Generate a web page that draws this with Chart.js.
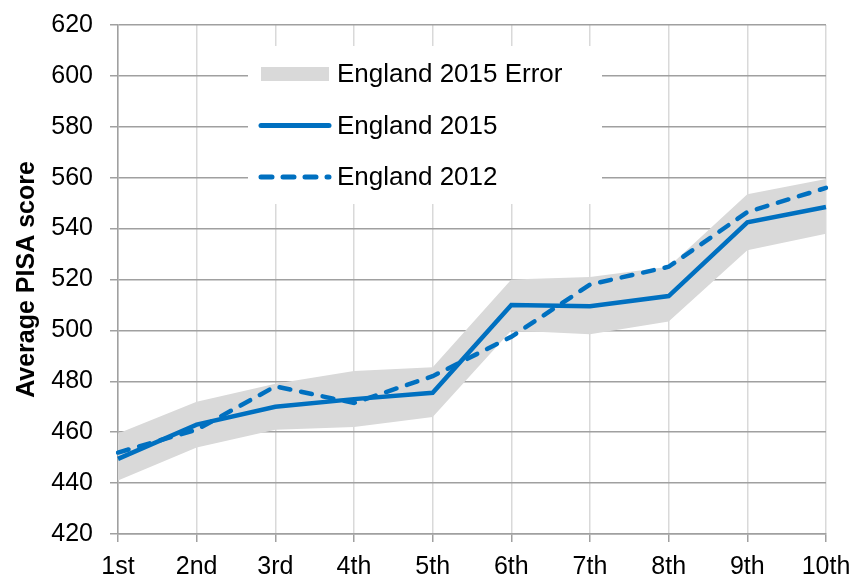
<!DOCTYPE html>
<html>
<head>
<meta charset="utf-8">
<script src="https://cdn.jsdelivr.net/npm/chart.js@4.4.0/dist/chart.umd.min.js"></script>
<style>
  html, body { margin: 0; padding: 0; background: #fff; }
  #wrap { width: 854px; height: 577px; }
</style>
</head>
<body>
<div id="wrap"><canvas id="chart" width="854" height="577"></canvas></div>
<script>
const deciles = ['1st', '2nd', '3rd', '4th', '5th', '6th', '7th', '8th', '9th', '10th'];
const england2015 = [449.5, 463, 470, 473, 475.5, 510, 509.5, 513.5, 542.5, 548.5];
const england2012 = [452, 461, 478, 471.5, 482, 497.5, 518, 525, 546.5, 556];
const errorLow = [441, 454, 461, 462, 466, 500, 498.5, 503.5, 531.5, 538];
const errorHigh = [459.5, 472, 479, 484, 485.5, 520, 521, 525, 553.5, 559.5];

const BLUE = '#0070c0';
const BAND = '#d9d9d9';
const FONT = '"Liberation Sans", Arial, sans-serif';

// legend drawn inside the plot, on a white box over the grid
const innerLegend = {
  id: 'innerLegend',
  afterDatasetsDraw(chart) {
    const ctx = chart.ctx;
    const x0 = 248, y0 = 46;
    ctx.save();
    ctx.fillStyle = '#fff';
    ctx.fillRect(x0, y0, 354, 158);

    const items = [
      { label: 'England 2015 Error', type: 'band' },
      { label: 'England 2015', type: 'solid' },
      { label: 'England 2012', type: 'dash' }
    ];
    items.forEach((it, i) => {
      const cy = 74 + i * 51.5;
      if (it.type === 'band') {
        ctx.fillStyle = BAND;
        ctx.fillRect(261, cy - 7, 68, 14);
      } else {
        ctx.strokeStyle = BLUE;
        ctx.lineWidth = 5;
        ctx.lineCap = 'round';
        ctx.setLineDash(it.type === 'dash' ? [11, 11] : []);
        ctx.beginPath();
        ctx.moveTo(261, cy);
        ctx.lineTo(329, cy);
        ctx.stroke();
        ctx.setLineDash([]);
      }
      ctx.fillStyle = '#000';
      ctx.font = '26px ' + FONT;
      ctx.textBaseline = 'middle';
      ctx.textAlign = 'left';
      ctx.fillText(it.label, 337, cy + 1);
    });
    ctx.restore();
  }
};

new Chart(document.getElementById('chart'), {
  type: 'line',
  data: {
    labels: deciles,
    datasets: [
      {
        label: 'England 2015',
        data: england2015,
        borderColor: BLUE,
        borderWidth: 4.5,
        pointRadius: 0,
        tension: 0,
        fill: false,
        order: 1
      },
      {
        label: 'England 2012',
        data: england2012,
        borderColor: BLUE,
        borderWidth: 4.5,
        borderDash: [11, 11],
        borderCapStyle: 'round',
        pointRadius: 0,
        tension: 0,
        fill: false,
        order: 2
      },
      {
        label: 'Error low',
        data: errorLow,
        borderWidth: 0,
        borderColor: 'rgba(0,0,0,0)',
        pointRadius: 0,
        tension: 0,
        fill: false,
        order: 3
      },
      {
        label: 'England 2015 Error',
        data: errorHigh,
        borderWidth: 0,
        borderColor: 'rgba(0,0,0,0)',
        backgroundColor: BAND,
        pointRadius: 0,
        tension: 0,
        fill: '-1',
        order: 4
      }
    ]
  },
  options: {
    responsive: false,
    animation: false,
    layout: { padding: { top: 25, right: 28, left: 12, bottom: 0 } },
    plugins: {
      legend: { display: false },
      tooltip: { enabled: false },
      filler: { drawTime: 'beforeDatasetsDraw' }
    },
    scales: {
      x: {
        offset: false,
        grid: {
          color: '#d9d9d9',
          lineWidth: 1.5,
          tickColor: '#a0a0a0',
          tickLength: 8
        },
        border: { color: '#a0a0a0', width: 1.5 },
        ticks: {
          color: '#000',
          font: { family: FONT, size: 25 },
          padding: 10,
          maxRotation: 0,
          autoSkip: false
        },
        afterFit(scale) {
          scale.height = 43;
          scale.paddingLeft = 0;
          scale.paddingRight = 0;
        }
      },
      y: {
        min: 420,
        max: 620,
        grid: {
          color: '#a0a0a0',
          lineWidth: 1.5,
          tickLength: 8
        },
        border: { color: '#a0a0a0', width: 1.5 },
        ticks: {
          stepSize: 20,
          color: '#000',
          font: { family: FONT, size: 25 },
          padding: 17
        },
        title: {
          display: true,
          text: 'Average PISA score',
          color: '#000',
          font: { family: FONT, size: 25, weight: 'bold' },
          padding: { top: 0, bottom: 0 }
        },
        afterFit(scale) {
          scale.width = 106;
          scale.paddingTop = 0;
          scale.paddingBottom = 0;
        }
      }
    }
  },
  plugins: [innerLegend]
});
</script>
</body>
</html>
